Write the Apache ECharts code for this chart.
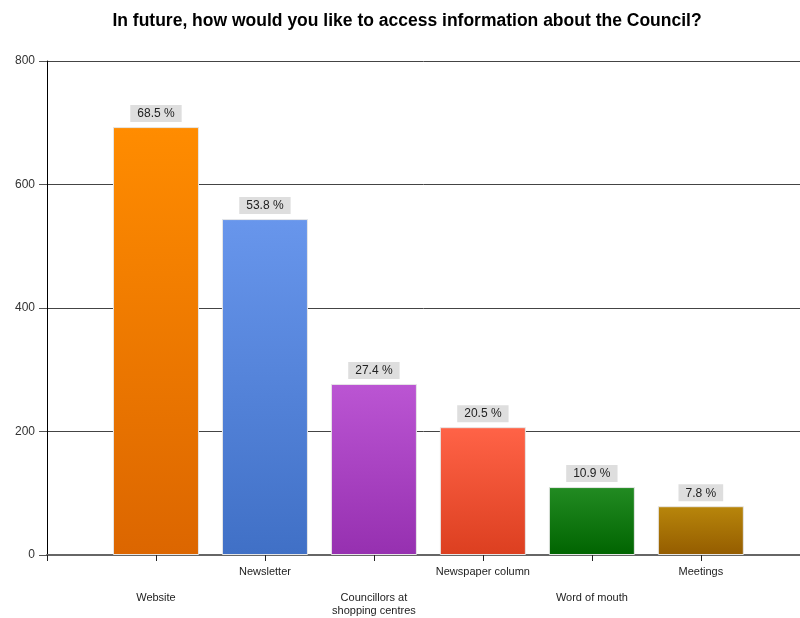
<!DOCTYPE html>
<html>
<head>
<meta charset="utf-8">
<script src="https://cdn.jsdelivr.net/npm/echarts@6/dist/echarts.min.js"></script>
<style>
  html, body { margin: 0; padding: 0; background: #ffffff; }
  #chart { width: 800px; height: 618px; }
</style>
</head>
<body>
<div id="chart"></div>
<script>
// Survey answers: number of respondents choosing each channel
const categories = ['Website', 'Newsletter', 'Councillors at\nshopping centres', 'Newspaper column', 'Word of mouth', 'Meetings'];
const counts = [693, 544, 277, 207, 110, 79];
const totalRespondents = 1012;
const yTicks = [0, 200, 400, 600, 800];

// Gradient stops per bar (top colour, bottom colour)
const barTop = ['#ff8c00', '#6896ec', '#bb55d3', '#ff6347', '#228b22', '#b8860b'];
const barBottom = ['#dc6600', '#4070c6', '#9630b0', '#dc3f20', '#006400', '#945c00'];

const FONT = '"Liberation Sans", Arial, sans-serif';

// Category slots sit at 1..N on a numeric axis, leaving an empty slot before the first bar
const slotPositions = categories.map((c, i) => i + 1);
const tickPositions = [0].concat(slotPositions);

const chart = echarts.init(document.getElementById('chart'), null, { renderer: 'canvas' });

const seriesData = counts.map((v, i) => ({
  value: [slotPositions[i], v],
  itemStyle: {
    color: new echarts.graphic.LinearGradient(0, 0, 0, 1, [
      { offset: 0, color: barTop[i] },
      { offset: 1, color: barBottom[i] }
    ])
  }
}));

chart.setOption({
  animation: false,
  backgroundColor: '#ffffff',
  title: {
    text: 'In future, how would you like to access information about the Council?',
    left: 402,
    textAlign: 'center',
    top: 7,
    textStyle: { fontFamily: FONT, fontSize: 17.5, fontWeight: 'bold', color: '#000' }
  },
  grid: { left: 47, right: 0, top: 61, bottom: 63, containLabel: false },
  xAxis: {
    type: 'value',
    min: 0,
    max: 6.91,
    splitLine: { show: false },
    axisLine: { show: true, lineStyle: { color: '#666', width: 2 } },
    axisTick: { show: true, length: 6, customValues: tickPositions, lineStyle: { color: '#222', width: 1 } },
    axisLabel: {
      margin: 10,
      fontFamily: FONT,
      fontSize: 11,
      color: '#222',
      lineHeight: 13,
      customValues: slotPositions,
      formatter: function (val) {
        const i = Math.round(val) - 1;
        if (i < 0 || i >= categories.length) return '';
        return i % 2 === 0 ? '\n\n' + categories[i] : categories[i];
      }
    }
  },
  yAxis: {
    type: 'value',
    min: yTicks[0],
    max: yTicks[yTicks.length - 1],
    interval: 200,
    axisLine: { show: true, lineStyle: { color: '#000', width: 1 } },
    axisTick: { show: true, length: 8, lineStyle: { color: '#555' } },
    axisLabel: { margin: 12, fontFamily: FONT, fontSize: 12, color: '#333' },
    splitLine: { show: true, lineStyle: { color: '#444', width: 1 } }
  },
  series: [{
    type: 'bar',
    barWidth: 86,
    data: seriesData,
    itemStyle: { borderColor: '#e6e6e6', borderWidth: 1 },
    label: {
      show: true,
      position: 'top',
      distance: 5,
      backgroundColor: '#dedede',
      padding: [3, 7, 2, 7],
      fontFamily: FONT,
      fontSize: 12,
      color: '#222',
      formatter: function (p) {
        return (p.value[1] / totalRespondents * 100).toFixed(1) + ' %';
      }
    }
  }]
});
</script>
</body>
</html>
